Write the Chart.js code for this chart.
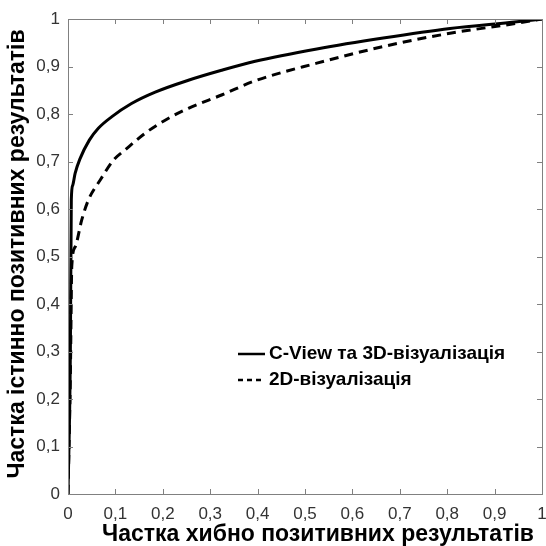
<!DOCTYPE html>
<html>
<head>
<meta charset="utf-8">
<script src="https://cdn.jsdelivr.net/npm/chart.js@4.4.1/dist/chart.umd.min.js"></script>
<style>
html,body{margin:0;padding:0;background:#fff;}
#wrap{width:546px;height:546px;position:relative;}
</style>
</head>
<body>
<div id="wrap"><canvas id="c" width="546" height="546"></canvas></div>
<script>
// ---- data ----
const seriesNames = ['C-View та 3D-візуалізація', '2D-візуалізація'];
const xTitle = 'Частка хибно позитивних результатів';
const yTitle = 'Частка істинно позитивних результатів';
const tickValues = [0, 0.1, 0.2, 0.3, 0.4, 0.5, 0.6, 0.7, 0.8, 0.9, 1];

const fprCView = [0, 0.005, 0.007, 0.01, 0.015, 0.025, 0.045, 0.064, 0.092, 0.134, 0.184, 0.254, 0.324, 0.395, 0.525, 0.665, 0.806, 0.947, 1];
const tprCView = [0, 0.30, 0.62, 0.65, 0.675, 0.705, 0.745, 0.77, 0.794, 0.822, 0.846, 0.871, 0.892, 0.911, 0.937, 0.96, 0.98, 0.994, 1];

const fpr2D = [0, 0.005, 0.008, 0.015, 0.029, 0.043, 0.068, 0.096, 0.12, 0.162, 0.205, 0.254, 0.324, 0.395, 0.525, 0.665, 0.806, 0.947, 1];
const tpr2D = [0, 0.25, 0.48, 0.52, 0.577, 0.619, 0.661, 0.703, 0.724, 0.759, 0.787, 0.812, 0.84, 0.87, 0.907, 0.942, 0.97, 0.991, 1];

function pts(xs, ys){ return xs.map((x,i)=>({x:x, y:ys[i]})); }
function fmt(v){ return Math.abs(v - Math.round(v)) < 1e-9 ? String(Math.round(v)) : v.toFixed(1).replace('.', ','); }

const FONT = "'Liberation Sans', Arial, sans-serif";

const framePlugin = {
  id: 'frame',
  afterDatasetsDraw(chart){
    const ctx = chart.ctx, a = chart.chartArea;
    const xs = chart.scales.x, ys = chart.scales.y;
    ctx.save();
    ctx.strokeStyle = '#808080';
    ctx.lineWidth = 1;
    ctx.strokeRect(Math.round(a.left)+0.5, Math.round(a.top)+0.5, Math.round(a.right-a.left), Math.round(a.bottom-a.top));
    const tl = 5;
    ctx.beginPath();
    tickValues.forEach(v=>{
      const px = Math.round(xs.getPixelForValue(v))+0.5;
      ctx.moveTo(px, a.bottom); ctx.lineTo(px, a.bottom - tl);
      ctx.moveTo(px, a.top); ctx.lineTo(px, a.top + tl);
      const py = Math.round(ys.getPixelForValue(v))+0.5;
      ctx.moveTo(a.left, py); ctx.lineTo(a.left + tl, py);
      ctx.moveTo(a.right, py); ctx.lineTo(a.right - tl, py);
    });
    ctx.stroke();
    ctx.restore();
  },
  afterDraw(chart){
    const ctx = chart.ctx;
    ctx.save();
    ctx.fillStyle = '#000';
    ctx.font = 'bold 23px ' + FONT;
    ctx.textAlign = 'center';
    ctx.textBaseline = 'middle';
    ctx.fillText(xTitle, 318, 535);
    ctx.translate(18, 254);
    ctx.rotate(-Math.PI/2);
    ctx.fillText(yTitle, 0, 0);
    ctx.restore();
    // legend
    const L = [{y:354, dash:[]},{y:380, dash:[5,4]}];
    ctx.save();
    ctx.font = 'bold 19px ' + FONT;
    ctx.textBaseline = 'middle';
    ctx.fillStyle = '#000';
    L.forEach((l,i)=>{
      ctx.beginPath();
      ctx.setLineDash(l.dash);
      ctx.lineWidth = 2.5;
      ctx.strokeStyle = '#000';
      ctx.moveTo(238, l.y); ctx.lineTo(265, l.y);
      ctx.stroke();
      ctx.setLineDash([]);
      ctx.fillText(seriesNames[i], 269, l.y);
    });
    ctx.restore();
  }
};

new Chart(document.getElementById('c'), {
  type: 'line',
  data: {
    datasets: [
      { label: seriesNames[0], data: pts(fprCView, tprCView), borderColor: '#000', borderWidth: 3, pointRadius: 0, cubicInterpolationMode: 'monotone', fill: false },
      { label: seriesNames[1], data: pts(fpr2D, tpr2D), borderColor: '#000', borderWidth: 3, borderDash: [9, 6], pointRadius: 0, cubicInterpolationMode: 'monotone', fill: false }
    ]
  },
  options: {
    responsive: false,
    animation: false,
    layout: { padding: { top: 19, right: 4, left: 0, bottom: 0 } },
    plugins: { legend: { display: false }, tooltip: { enabled: false } },
    scales: {
      x: {
        type: 'linear', min: 0, max: 1,
        grid: { display: false, drawTicks: false },
        border: { display: false },
        afterBuildTicks(s){ s.ticks = tickValues.map(v=>({value:v})); },
        afterFit(s){ s.height = 52; s.paddingLeft = 0; s.paddingRight = 0; },
        ticks: { padding: 10, color: '#333', font: { family: FONT, size: 17 }, callback: v => fmt(v), maxRotation: 0, autoSkip: false }
      },
      y: {
        type: 'linear', min: 0, max: 1,
        grid: { display: false, drawTicks: false },
        border: { display: false },
        afterBuildTicks(s){ s.ticks = tickValues.map(v=>({value:v})); },
        afterFit(s){ s.width = 68; s.paddingTop = 0; s.paddingBottom = 0; },
        ticks: { padding: 8, color: '#333', font: { family: FONT, size: 17 }, callback: v => fmt(v), autoSkip: false }
      }
    }
  },
  plugins: [framePlugin]
});
</script>
</body>
</html>
